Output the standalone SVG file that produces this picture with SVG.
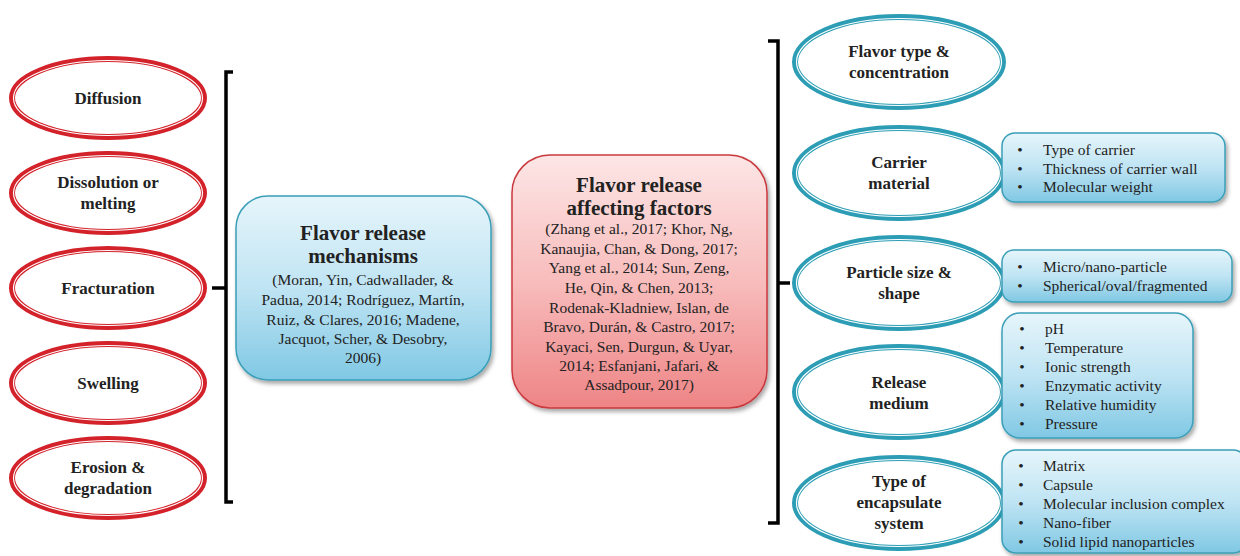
<svg xmlns="http://www.w3.org/2000/svg" width="1240" height="556" viewBox="0 0 1240 556">
<defs>
<linearGradient id="gBlue" x1="0" y1="0" x2="0" y2="1">
<stop offset="0" stop-color="#e6f5fb"/><stop offset="0.5" stop-color="#bfe4f3"/><stop offset="1" stop-color="#80c8e4"/>
</linearGradient>
<linearGradient id="gRed" x1="0" y1="0" x2="0" y2="1">
<stop offset="0" stop-color="#fde6e6"/><stop offset="0.5" stop-color="#f8bcbc"/><stop offset="1" stop-color="#ee8485"/>
</linearGradient>
<filter id="sh" x="-10%" y="-10%" width="130%" height="140%">
<feDropShadow dx="2" dy="3" stdDeviation="2" flood-color="#000" flood-opacity="0.35"/>
</filter>
</defs>
<style>
text{font-family:'Liberation Serif','Tinos','DejaVu Serif',serif}
.t{fill:#222;text-anchor:middle}
.eb{font-size:17px;font-weight:bold}
.title{font-size:21px;font-weight:bold}
.cit{font-size:15.5px}
.bl{fill:#222;font-size:15.5px}
.bd{fill:#222;font-size:15.5px;text-anchor:middle}
.rO{fill:#fff;stroke:#d3222a;stroke-width:6}
.rI{fill:none;stroke:#fff;stroke-width:1.2}
.bO{fill:#fff;stroke:#2c9db4;stroke-width:6}
.bI{fill:none;stroke:#fff;stroke-width:1.2}
.box{fill:url(#gBlue);stroke:#3a9fb8;stroke-width:1.5;filter:url(#sh)}
.rbox{fill:url(#gRed);stroke:#c9393c;stroke-width:1.5;filter:url(#sh)}
.br{fill:none;stroke:#000;stroke-width:3.5}
</style>
<rect width="1240" height="556" fill="#fff"/>

<g id="connectors">
<path class="br" d="M233,72 H226 V502 H233"/>
<path class="br" d="M212,288 H226"/>
<path class="br" d="M768,41 H778 V523 H768"/>
<path class="br" d="M778,283 H790"/>
</g>

<g id="diffusion">
<ellipse class="rO" cx="108" cy="98" rx="96" ry="39"/><ellipse class="rI" cx="108" cy="98" rx="94.5" ry="37.5"/>
<text class="t eb" x="108" y="104">Diffusion</text>
</g>
<g id="dissolution">
<ellipse class="rO" cx="108" cy="193" rx="96" ry="39"/><ellipse class="rI" cx="108" cy="193" rx="94.5" ry="37.5"/>
<text class="t eb" x="108" y="188">Dissolution or</text>
<text class="t eb" x="108" y="209">melting</text>
</g>
<g id="fracturation">
<ellipse class="rO" cx="108" cy="288" rx="96" ry="39"/><ellipse class="rI" cx="108" cy="288" rx="94.5" ry="37.5"/>
<text class="t eb" x="108" y="294">Fracturation</text>
</g>
<g id="swelling">
<ellipse class="rO" cx="108" cy="383" rx="96" ry="39"/><ellipse class="rI" cx="108" cy="383" rx="94.5" ry="37.5"/>
<text class="t eb" x="108" y="389">Swelling</text>
</g>
<g id="erosion">
<ellipse class="rO" cx="108" cy="478" rx="96" ry="39"/><ellipse class="rI" cx="108" cy="478" rx="94.5" ry="37.5"/>
<text class="t eb" x="108" y="473">Erosion &amp;</text>
<text class="t eb" x="108" y="494">degradation</text>
</g>

<g id="mechanisms">
<rect class="box" x="236" y="196" width="255" height="184" rx="32"/>
<text class="t title" x="363" y="240">Flavor release</text>
<text class="t title" x="363" y="263">mechanisms</text>
<text class="t cit" x="363" y="285">(Moran, Yin, Cadwallader, &amp;</text>
<text class="t cit" x="363" y="305">Padua, 2014; Rodríguez, Martín,</text>
<text class="t cit" x="363" y="325">Ruiz, &amp; Clares, 2016; Madene,</text>
<text class="t cit" x="363" y="344">Jacquot, Scher, &amp; Desobry,</text>
<text class="t cit" x="363" y="363">2006)</text>
</g>

<g id="factors">
<rect class="rbox" x="512" y="155" width="255" height="253" rx="38"/>
<text class="t title" x="639" y="192">Flavor release</text>
<text class="t title" x="639" y="215">affecting factors</text>
<text class="t cit" x="639" y="234">(Zhang et al., 2017; Khor, Ng,</text>
<text class="t cit" x="639" y="254">Kanaujia,  Chan, &amp; Dong, 2017;</text>
<text class="t cit" x="639" y="273">Yang et al., 2014; Sun, Zeng,</text>
<text class="t cit" x="639" y="293">He, Qin, &amp; Chen, 2013;</text>
<text class="t cit" x="639" y="313">Rodenak-Kladniew, Islan, de</text>
<text class="t cit" x="639" y="332">Bravo, Durán, &amp; Castro, 2017;</text>
<text class="t cit" x="639" y="352">Kayaci, Sen, Durgun, &amp; Uyar,</text>
<text class="t cit" x="639" y="371">2014; Esfanjani, Jafari, &amp;</text>
<text class="t cit" x="639" y="390">Assadpour, 2017)</text>
</g>

<g id="flavor-type">
<ellipse class="bO" cx="899" cy="62" rx="104" ry="45"/><ellipse class="bI" cx="899" cy="62" rx="102.5" ry="43.5"/>
<text class="t eb" x="899" y="57">Flavor type &amp;</text>
<text class="t eb" x="899" y="78">concentration</text>
</g>
<g id="carrier">
<ellipse class="bO" cx="899" cy="173" rx="104" ry="45"/><ellipse class="bI" cx="899" cy="173" rx="102.5" ry="43.5"/>
<text class="t eb" x="899" y="168">Carrier</text>
<text class="t eb" x="899" y="189">material</text>
</g>
<g id="particle">
<ellipse class="bO" cx="899" cy="283" rx="104" ry="45"/><ellipse class="bI" cx="899" cy="283" rx="102.5" ry="43.5"/>
<text class="t eb" x="899" y="278">Particle size &amp;</text>
<text class="t eb" x="899" y="299">shape</text>
</g>
<g id="medium">
<ellipse class="bO" cx="899" cy="392" rx="104" ry="45"/><ellipse class="bI" cx="899" cy="392" rx="102.5" ry="43.5"/>
<text class="t eb" x="899" y="388">Release</text>
<text class="t eb" x="899" y="409">medium</text>
</g>
<g id="encapsulate">
<ellipse class="bO" cx="899" cy="503" rx="104" ry="45"/><ellipse class="bI" cx="899" cy="503" rx="102.5" ry="43.5"/>
<text class="t eb" x="899" y="487">Type of</text>
<text class="t eb" x="899" y="508">encapsulate</text>
<text class="t eb" x="899" y="529">system</text>
</g>

<g id="carrier-list">
<rect class="box" x="1002" y="133" width="223" height="69" rx="13"/>
<text class="bd" x="1020" y="155">•</text><text class="bl" x="1043" y="155">Type of carrier</text>
<text class="bd" x="1020" y="174">•</text><text class="bl" x="1043" y="174">Thickness of carrier wall</text>
<text class="bd" x="1020" y="192">•</text><text class="bl" x="1043" y="192">Molecular  weight</text>
</g>
<g id="particle-list">
<rect class="box" x="1002" y="250" width="230" height="52" rx="12"/>
<text class="bd" x="1020" y="272">•</text><text class="bl" x="1043" y="272">Micro/nano-particle</text>
<text class="bd" x="1020" y="291">•</text><text class="bl" x="1043" y="291">Spherical/oval/fragmented</text>
</g>
<g id="medium-list">
<rect class="box" x="1002" y="313" width="191" height="125" rx="18"/>
<text class="bd" x="1022" y="334">•</text><text class="bl" x="1045" y="334">pH</text>
<text class="bd" x="1022" y="353">•</text><text class="bl" x="1045" y="353">Temperature</text>
<text class="bd" x="1022" y="372">•</text><text class="bl" x="1045" y="372">Ionic strength</text>
<text class="bd" x="1022" y="391">•</text><text class="bl" x="1045" y="391">Enzymatic  activity</text>
<text class="bd" x="1022" y="410">•</text><text class="bl" x="1045" y="410">Relative  humidity</text>
<text class="bd" x="1022" y="429">•</text><text class="bl" x="1045" y="429">Pressure</text>
</g>
<g id="encapsulate-list">
<rect class="box" x="1002" y="450" width="245" height="103" rx="14"/>
<text class="bd" x="1021" y="471">•</text><text class="bl" x="1043" y="471">Matrix</text>
<text class="bd" x="1021" y="490">•</text><text class="bl" x="1043" y="490">Capsule</text>
<text class="bd" x="1021" y="509">•</text><text class="bl" x="1043" y="509">Molecular  inclusion  complex</text>
<text class="bd" x="1021" y="528">•</text><text class="bl" x="1043" y="528">Nano-fiber</text>
<text class="bd" x="1021" y="547">•</text><text class="bl" x="1043" y="547">Solid  lipid  nanoparticles</text>
</g>
</svg>
